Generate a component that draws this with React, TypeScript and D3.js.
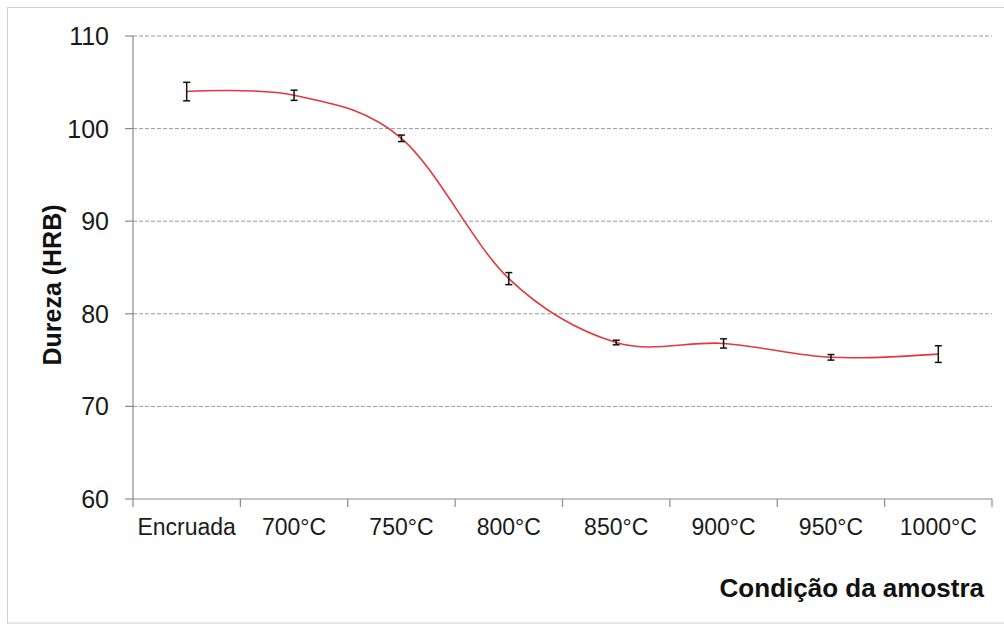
import React from "react";
import * as d3 from "d3";

const categories = ["Encruada", "700°C", "750°C", "800°C", "850°C", "900°C", "950°C", "1000°C"];
const hardness = [104.0, 103.6, 98.95, 83.8, 76.9, 76.8, 75.3, 75.65];
const errors = [1.0, 0.55, 0.35, 0.65, 0.25, 0.5, 0.3, 0.9];
const yTicks = [60, 70, 80, 90, 100, 110];
const yTitle = "Dureza (HRB)";
const xTitle = "Condição da amostra";

const W = 1004;
const H = 630;
const left = 133;
const right = 992;
const top = 36;
const bottom = 499;

export default function App() {
  const x = d3.scaleBand<string>().domain(categories).range([left, right]).padding(0);
  const y = d3.scaleLinear().domain([60, 110]).range([bottom, top]);
  const cx = (c: string) => (x(c) as number) + x.bandwidth() / 2;

  const pts: [number, number][] = categories.map((c, i) => [cx(c), y(hardness[i])]);
  const line = d3.line().curve(d3.curveCardinal.tension(0))(pts) || "";

  const boundaries = categories.map((c) => x(c) as number).concat([right]);
  const font = "Arial, 'Liberation Sans', sans-serif";

  return (
    <svg
      width={W}
      height={H}
      style={{ position: "absolute", left: 0, top: 0, background: "#fff" }}
      fontFamily={font}
    >
      <rect x={7.5} y={7.5} width={1000} height={615.5} fill="#fff" stroke="#cfcfcf" strokeWidth={1} />
      {/* gridlines */}
      {yTicks.filter((t) => t !== 60).map((t) => (
        <line
          key={"g" + t}
          x1={left}
          x2={right}
          y1={y(t)}
          y2={y(t)}
          stroke="#9a9a9a"
          strokeWidth={1}
          strokeDasharray="4,2"
        />
      ))}
      {/* y axis */}
      <line x1={left} x2={left} y1={top} y2={bottom} stroke="#8a8a8a" strokeWidth={1.2} />
      {yTicks.map((t) => (
        <g key={"yt" + t}>
          <line x1={left - 8} x2={left} y1={y(t)} y2={y(t)} stroke="#8a8a8a" strokeWidth={1.2} />
          <text x={109} y={y(t)} dy="0.36em" textAnchor="end" fontSize={25} fill="#1a1a1a">
            {t}
          </text>
        </g>
      ))}
      {/* x axis */}
      <line x1={left} x2={right} y1={bottom} y2={bottom} stroke="#8a8a8a" strokeWidth={1.2} />
      {boundaries.map((b, i) => (
        <line key={"xt" + i} x1={b} x2={b} y1={bottom} y2={bottom + 8} stroke="#8a8a8a" strokeWidth={1.2} />
      ))}
      {categories.map((c) => (
        <text key={"xl" + c} x={cx(c)} y={535} textAnchor="middle" fontSize={23} fill="#1a1a1a">
          {c}
        </text>
      ))}
      {/* series line */}
      <path d={line} fill="none" stroke="#e0383c" strokeWidth={1.6} />
      {/* error bars */}
      {categories.map((c, i) => {
        const xc = cx(c);
        const y1 = y(hardness[i] + errors[i]);
        const y2 = y(hardness[i] - errors[i]);
        return (
          <g key={"e" + c} stroke="#111" strokeWidth={1.5}>
            <line x1={xc} x2={xc} y1={y1} y2={y2} />
            <line x1={xc - 3.5} x2={xc + 3.5} y1={y1} y2={y1} />
            <line x1={xc - 3.5} x2={xc + 3.5} y1={y2} y2={y2} />
          </g>
        );
      })}
      {/* titles */}
      <text
        transform={`translate(61,285) rotate(-90)`}
        textAnchor="middle"
        fontSize={25}
        fontWeight="bold"
        fill="#111"
      >
        {yTitle}
      </text>
      <text x={984} y={597} textAnchor="end" fontSize={26} fontWeight="bold" fill="#111">
        {xTitle}
      </text>
    </svg>
  );
}
